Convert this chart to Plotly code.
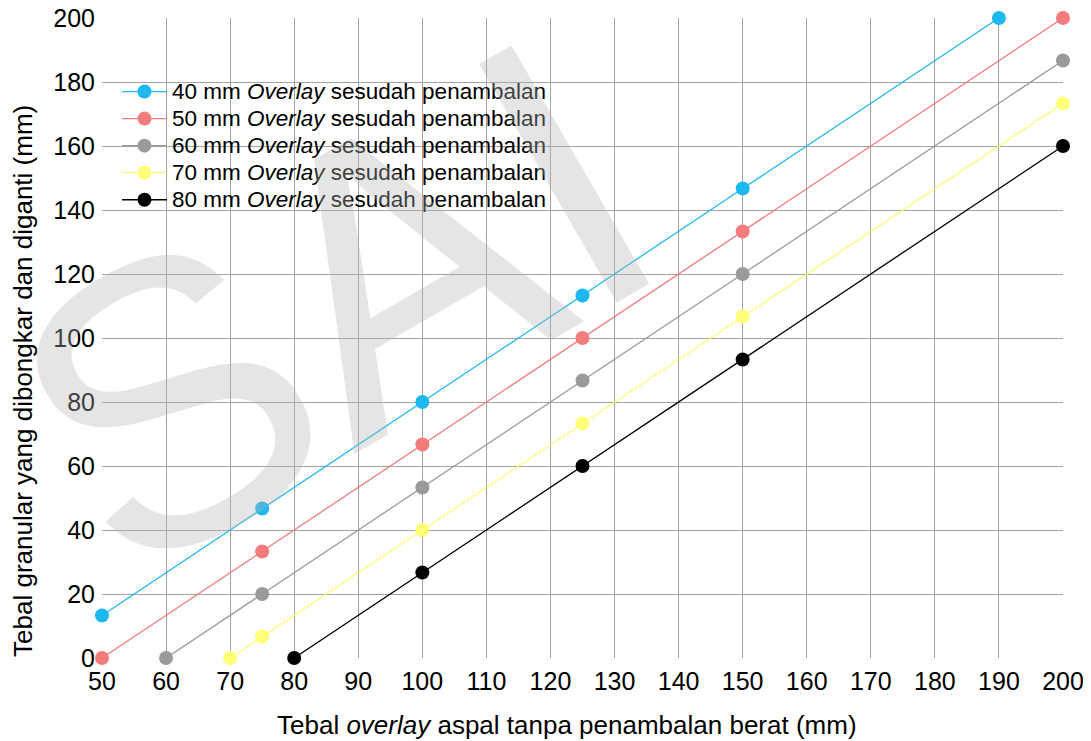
import plotly.graph_objects as go

x_tick_vals = list(range(50, 201, 10))
y_tick_vals = list(range(0, 201, 20))

series_names = [
    "40 mm <i>Overlay</i> sesudah penambalan",
    "50 mm <i>Overlay</i> sesudah penambalan",
    "60 mm <i>Overlay</i> sesudah penambalan",
    "70 mm <i>Overlay</i> sesudah penambalan",
    "80 mm <i>Overlay</i> sesudah penambalan",
]
x_40 = [50, 75, 100, 125, 150, 190]
y_40 = [13.3, 46.7, 80, 113.3, 146.7, 200]
x_50 = [50, 75, 100, 125, 150, 200]
y_50 = [0, 33.3, 66.7, 100, 133.3, 200]
x_60 = [60, 75, 100, 125, 150, 200]
y_60 = [0, 20, 53.3, 86.7, 120, 186.7]
x_70 = [70, 75, 100, 125, 150, 200]
y_70 = [0, 6.7, 40, 73.3, 106.7, 173.3]
x_80 = [80, 100, 125, 150, 200]
y_80 = [0, 26.7, 60, 93.3, 160]
colors = ["#1DB9EE", "#F27C7C", "#9A9A9A", "#FFFF7A", "#000000"]

xs = [x_40, x_50, x_60, x_70, x_80]
ys = [y_40, y_50, y_60, y_70, y_80]

FONT = "Liberation Sans, Arial, sans-serif"

fig = go.Figure()
for name, x, y, c in zip(series_names, xs, ys, colors):
    fig.add_trace(go.Scatter(
        x=x, y=y, mode="lines+markers",
        name='<span style="font-size:22.5px">' + name + "</span>",
        line=dict(color=c, width=1.3),
        marker=dict(color=c, size=14),
        cliponaxis=False,
    ))

# watermark
fig.add_annotation(
    text="SAI", xref="paper", yref="paper", x=0.24, y=0.55,
    xanchor="center", yanchor="middle",
    showarrow=False, textangle=-30,
    font=dict(family=FONT, size=400, color="rgba(180,180,180,0.35)"),
)

# axis titles
fig.add_annotation(
    text="Tebal <i>overlay</i> aspal tanpa penambalan berat (mm)",
    xref="paper", yref="paper", x=0.484, y=-0.1047,
    xanchor="center", yanchor="middle", showarrow=False,
    font=dict(family=FONT, size=26, color="#000000"),
)
fig.add_annotation(
    text="Tebal granular yang dibongkar dan diganti (mm)",
    xref="paper", yref="paper", x=-0.0822, y=0.433,
    xanchor="center", yanchor="middle", showarrow=False, textangle=-90,
    font=dict(family=FONT, size=26, color="#000000"),
)

fig.update_layout(
    width=1091, height=741,
    margin=dict(l=94, r=36, t=10, b=91, autoexpand=False),
    paper_bgcolor="white", plot_bgcolor="white",
    font=dict(family=FONT, color="#000000"),
    showlegend=True,
    legend=dict(
        x=0.0156, y=0.914, xanchor="left", yanchor="top",
        bgcolor="rgba(0,0,0,0)", font=dict(size=18.5, family=FONT, color="#000000"),
        tracegroupgap=0, itemwidth=45,
    ),
    xaxis=dict(
        range=[50, 200], tickvals=x_tick_vals, showgrid=True, automargin=False,
        gridcolor="#A3A3A3", gridwidth=1.2, zeroline=False, showline=False,
        tickfont=dict(size=25), ticks="", ticklabelstandoff=6,
        ticklabeloverflow="allow",
    ),
    yaxis=dict(
        range=[0, 200], tickvals=y_tick_vals, showgrid=True, automargin=False,
        gridcolor="#A3A3A3", gridwidth=1.2, zeroline=False, showline=False,
        tickfont=dict(size=25), ticks="", ticklabelstandoff=6,
        ticklabeloverflow="allow",
    ),
)

fig.write_html("out.html")
